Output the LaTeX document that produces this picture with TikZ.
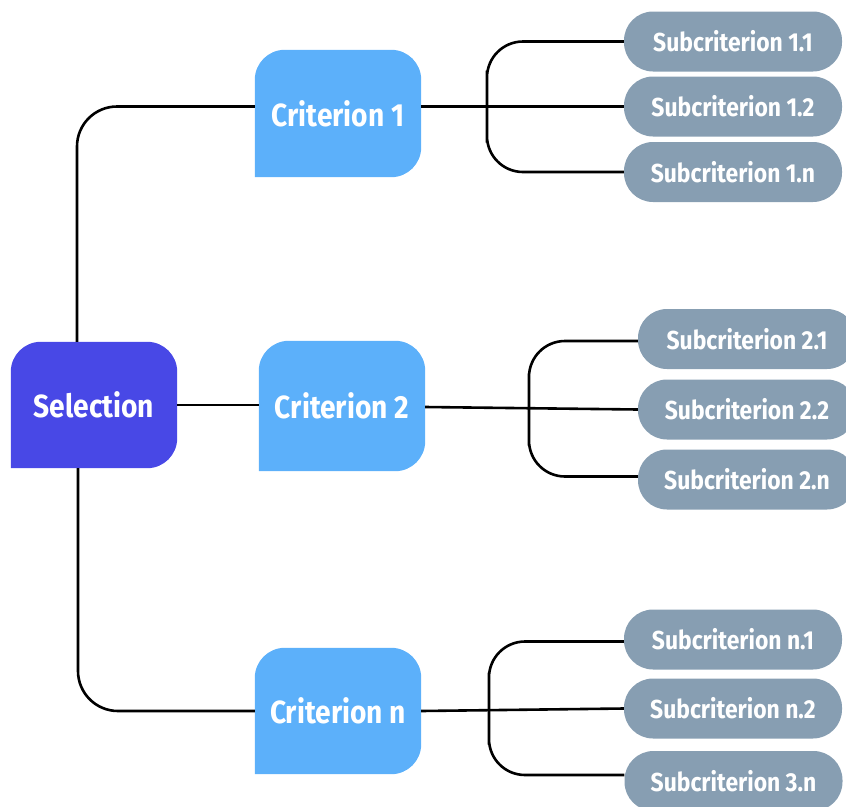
\documentclass[tikz,border=0pt]{standalone}
\usepackage{fontspec}
\setmainfont{Fira Sans}[FakeStretch=0.88]
\pgfdeclarelayer{bg}
\pgfsetlayers{bg,main}
\definecolor{selcol}{HTML}{4848E6}
\definecolor{critcol}{HTML}{5CB0FA}
\definecolor{subcol}{HTML}{879EB2}
\newcommand\threecorner[2]{%
\begin{pgfonlayer}{bg}
\fill[#2] (#1.south west) -- ([yshift=-30pt]#1.north west) arc[start angle=180,end angle=90,radius=30pt]
 -- ([xshift=-30pt]#1.north east) arc[start angle=90,end angle=0,radius=30pt]
 -- ([yshift=30pt]#1.south east) arc[start angle=0,end angle=-90,radius=30pt] -- cycle;
\end{pgfonlayer}}
\begin{document}
\begin{tikzpicture}[x=1pt,y=-1pt,
  bigbox/.style={minimum width=166pt,minimum height=127pt,inner sep=0pt,text=white,font=\fontsize{32}{38}\selectfont\bfseries},
  pill/.style={fill=subcol,rounded corners=29pt,minimum width=218pt,minimum height=60pt,inner sep=0pt,text=white,font=\fontsize{26}{31}\selectfont\bfseries},
  conn/.style={draw=black,line width=2.6pt}]
\useasboundingbox (0,0) rectangle (846,806);
\clip (0,0) rectangle (846,806);
% main nodes
\node[bigbox,minimum height=126pt] (sel) at (94,405) {Selection};
\node[bigbox] (c1) at (338,113.5) {Criterion 1};
\node[bigbox,minimum height=130pt] (c2) at (342,406) {Criterion 2};
\node[bigbox,minimum height=126pt] (cn) at (338,711) {Criterion n};
\threecorner{sel}{selcol}
\threecorner{c1}{critcol}
\threecorner{c2}{critcol}
\threecorner{cn}{critcol}
% subcriteria
\node[pill] (s11) at (733,41.5) {Subcriterion 1.1};
\node[pill] (s12) at (733,106.5) {Subcriterion 1.2};
\node[pill] (s1n) at (733,172) {Subcriterion 1.n};
\node[pill] (s21) at (747,339) {Subcriterion 2.1};
\node[pill] (s22) at (747,409.5) {Subcriterion 2.2};
\node[pill] (s2n) at (747,479.5) {Subcriterion 2.n};
\node[pill] (sn1) at (733,639.5) {Subcriterion n.1};
\node[pill] (sn2) at (733,708.5) {Subcriterion n.2};
\node[pill] (s3n) at (733.5,781) {Subcriterion 3.n};
% bracket coordinates
\coordinate (b1) at (487,0);
\coordinate (b2) at (529,0);
\coordinate (b3) at (489,0);
% connectors from selection
\draw[conn,rounded corners=40pt] ([xshift=-17pt]sel.north) |- ([yshift=7pt]c1.west);
\draw[conn] (sel.east) -- (sel.east -| c2.west);
\draw[conn,rounded corners=40pt] ([xshift=-16pt]sel.south) |- (cn.west);
% group 1
\draw[conn] ([yshift=7pt]c1.east) -- (s12.west);
\draw[conn,rounded corners=36pt] (s11.west) -| (b1 |- s12.west) |- (s1n.west);
% group 2
\draw[conn] ([yshift=-1pt]c2.east) -- (s22.west);
\draw[conn,rounded corners=36pt] ([yshift=-2pt]s21.west) -| (b2 |- s22.west) |- ([yshift=3pt]s2n.west);
% group n
\draw[conn] (cn.east) -- (sn2.west);
\draw[conn,rounded corners=36pt] ([yshift=-2pt]sn1.west) -| (b3 |- sn2.west) |- ([yshift=6pt]s3n.west);
\end{tikzpicture}
\end{document}
